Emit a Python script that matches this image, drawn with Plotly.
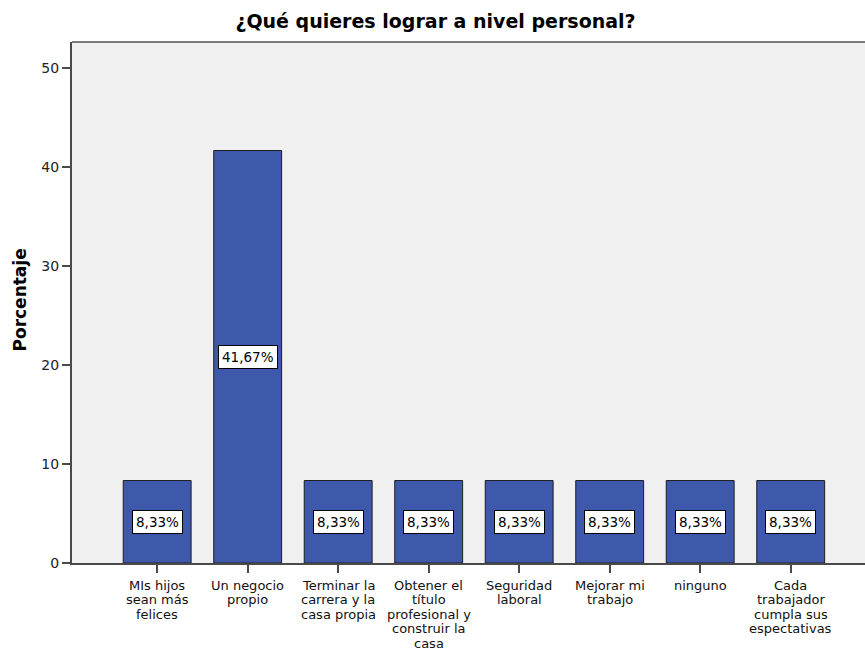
import plotly.graph_objects as go

# Respuestas y porcentajes
categorias = [
    "MIs hijos\nsean más\nfelices",
    "Un negocio\npropio",
    "Terminar la\ncarrera y la\ncasa propia",
    "Obtener el\ntítulo\nprofesional y\nconstruir la\ncasa",
    "Seguridad\nlaboral",
    "Mejorar mi\ntrabajo",
    "ninguno",
    "Cada\ntrabajador\ncumpla sus\nespectativas",
]
porcentajes = [8.33, 41.67, 8.33, 8.33, 8.33, 8.33, 8.33, 8.33]
y_ticks = [0, 10, 20, 30, 40, 50]

FONT = "DejaVu Sans"
BAR_COLOR = "#3E58AC"
AXIS_COLOR = "#4a4a4a"

idx = list(range(len(categorias)))

fig = go.Figure()
fig.add_trace(go.Bar(
    x=idx,
    y=porcentajes,
    width=0.75,
    marker=dict(color=BAR_COLOR, line=dict(color="#1e1e1e", width=1)),
    hoverinfo="skip",
))

annotations = []
# Etiquetas de valor centradas en cada barra
for i, v in zip(idx, porcentajes):
    annotations.append(dict(
        x=i, y=v / 2, xref="x", yref="y",
        text=f"{v:.2f}".replace(".", ",") + "%",
        showarrow=False,
        font=dict(family=FONT, size=13.5, color="#000000"),
        bgcolor="#ffffff", bordercolor="#000000", borderwidth=1, borderpad=3,
    ))

# Etiquetas de categoría, una línea por anotación para un interlineado compacto
for i, cat in zip(idx, categorias):
    for k, line in enumerate(cat.split("\n")):
        annotations.append(dict(
            x=i, y=0, xref="x", yref="paper",
            text=line, showarrow=False,
            xanchor="center", yanchor="middle",
            yshift=-(22 + 14.5 * k),
            font=dict(family=FONT, size=13, color="#111111"),
        ))

# Título del eje Y
annotations.append(dict(
    x=-53 / 793, y=(563 - 300.5) / 521, xref="paper", yref="paper",
    text="<b>Porcentaje</b>", showarrow=False, textangle=-90,
    xanchor="center", yanchor="middle",
    font=dict(family=FONT, size=17, color="#000000"),
))

fig.update_layout(
    width=865, height=650,
    margin=dict(l=72, r=0, t=42, b=87, autoexpand=False),
    paper_bgcolor="#ffffff",
    plot_bgcolor="#f0f0f0",
    showlegend=False,
    title=dict(
        text="<b>¿Qué quieres lograr a nivel personal?</b>",
        x=435.5 / 865, xanchor="center",
        y=1 - 21 / 650, yanchor="middle", yref="container",
        font=dict(family=FONT, size=19, color="#000000"),
    ),
    xaxis=dict(
        range=[-0.941, 7.821],
        tickvals=idx, ticktext=[""] * len(idx),
        ticks="outside", ticklen=8, tickcolor=AXIS_COLOR, tickwidth=2,
        showline=True, linecolor=AXIS_COLOR, linewidth=2,
        showgrid=False, zeroline=False, fixedrange=True,
    ),
    yaxis=dict(
        range=[0, 52.63],
        tickvals=y_ticks,
        ticks="outside", ticklen=8, tickcolor=AXIS_COLOR, tickwidth=2,
        tickfont=dict(family=FONT, size=14, color="#222222"),
        showline=True, linecolor=AXIS_COLOR, linewidth=2,
        showgrid=False, zeroline=False, fixedrange=True,
    ),
    shapes=[dict(
        type="line", xref="paper", yref="paper",
        x0=0, x1=1, y0=1, y1=1,
        line=dict(color="#7a7a7a", width=2),
    )],
    annotations=annotations,
)

fig.write_html("out.html")
